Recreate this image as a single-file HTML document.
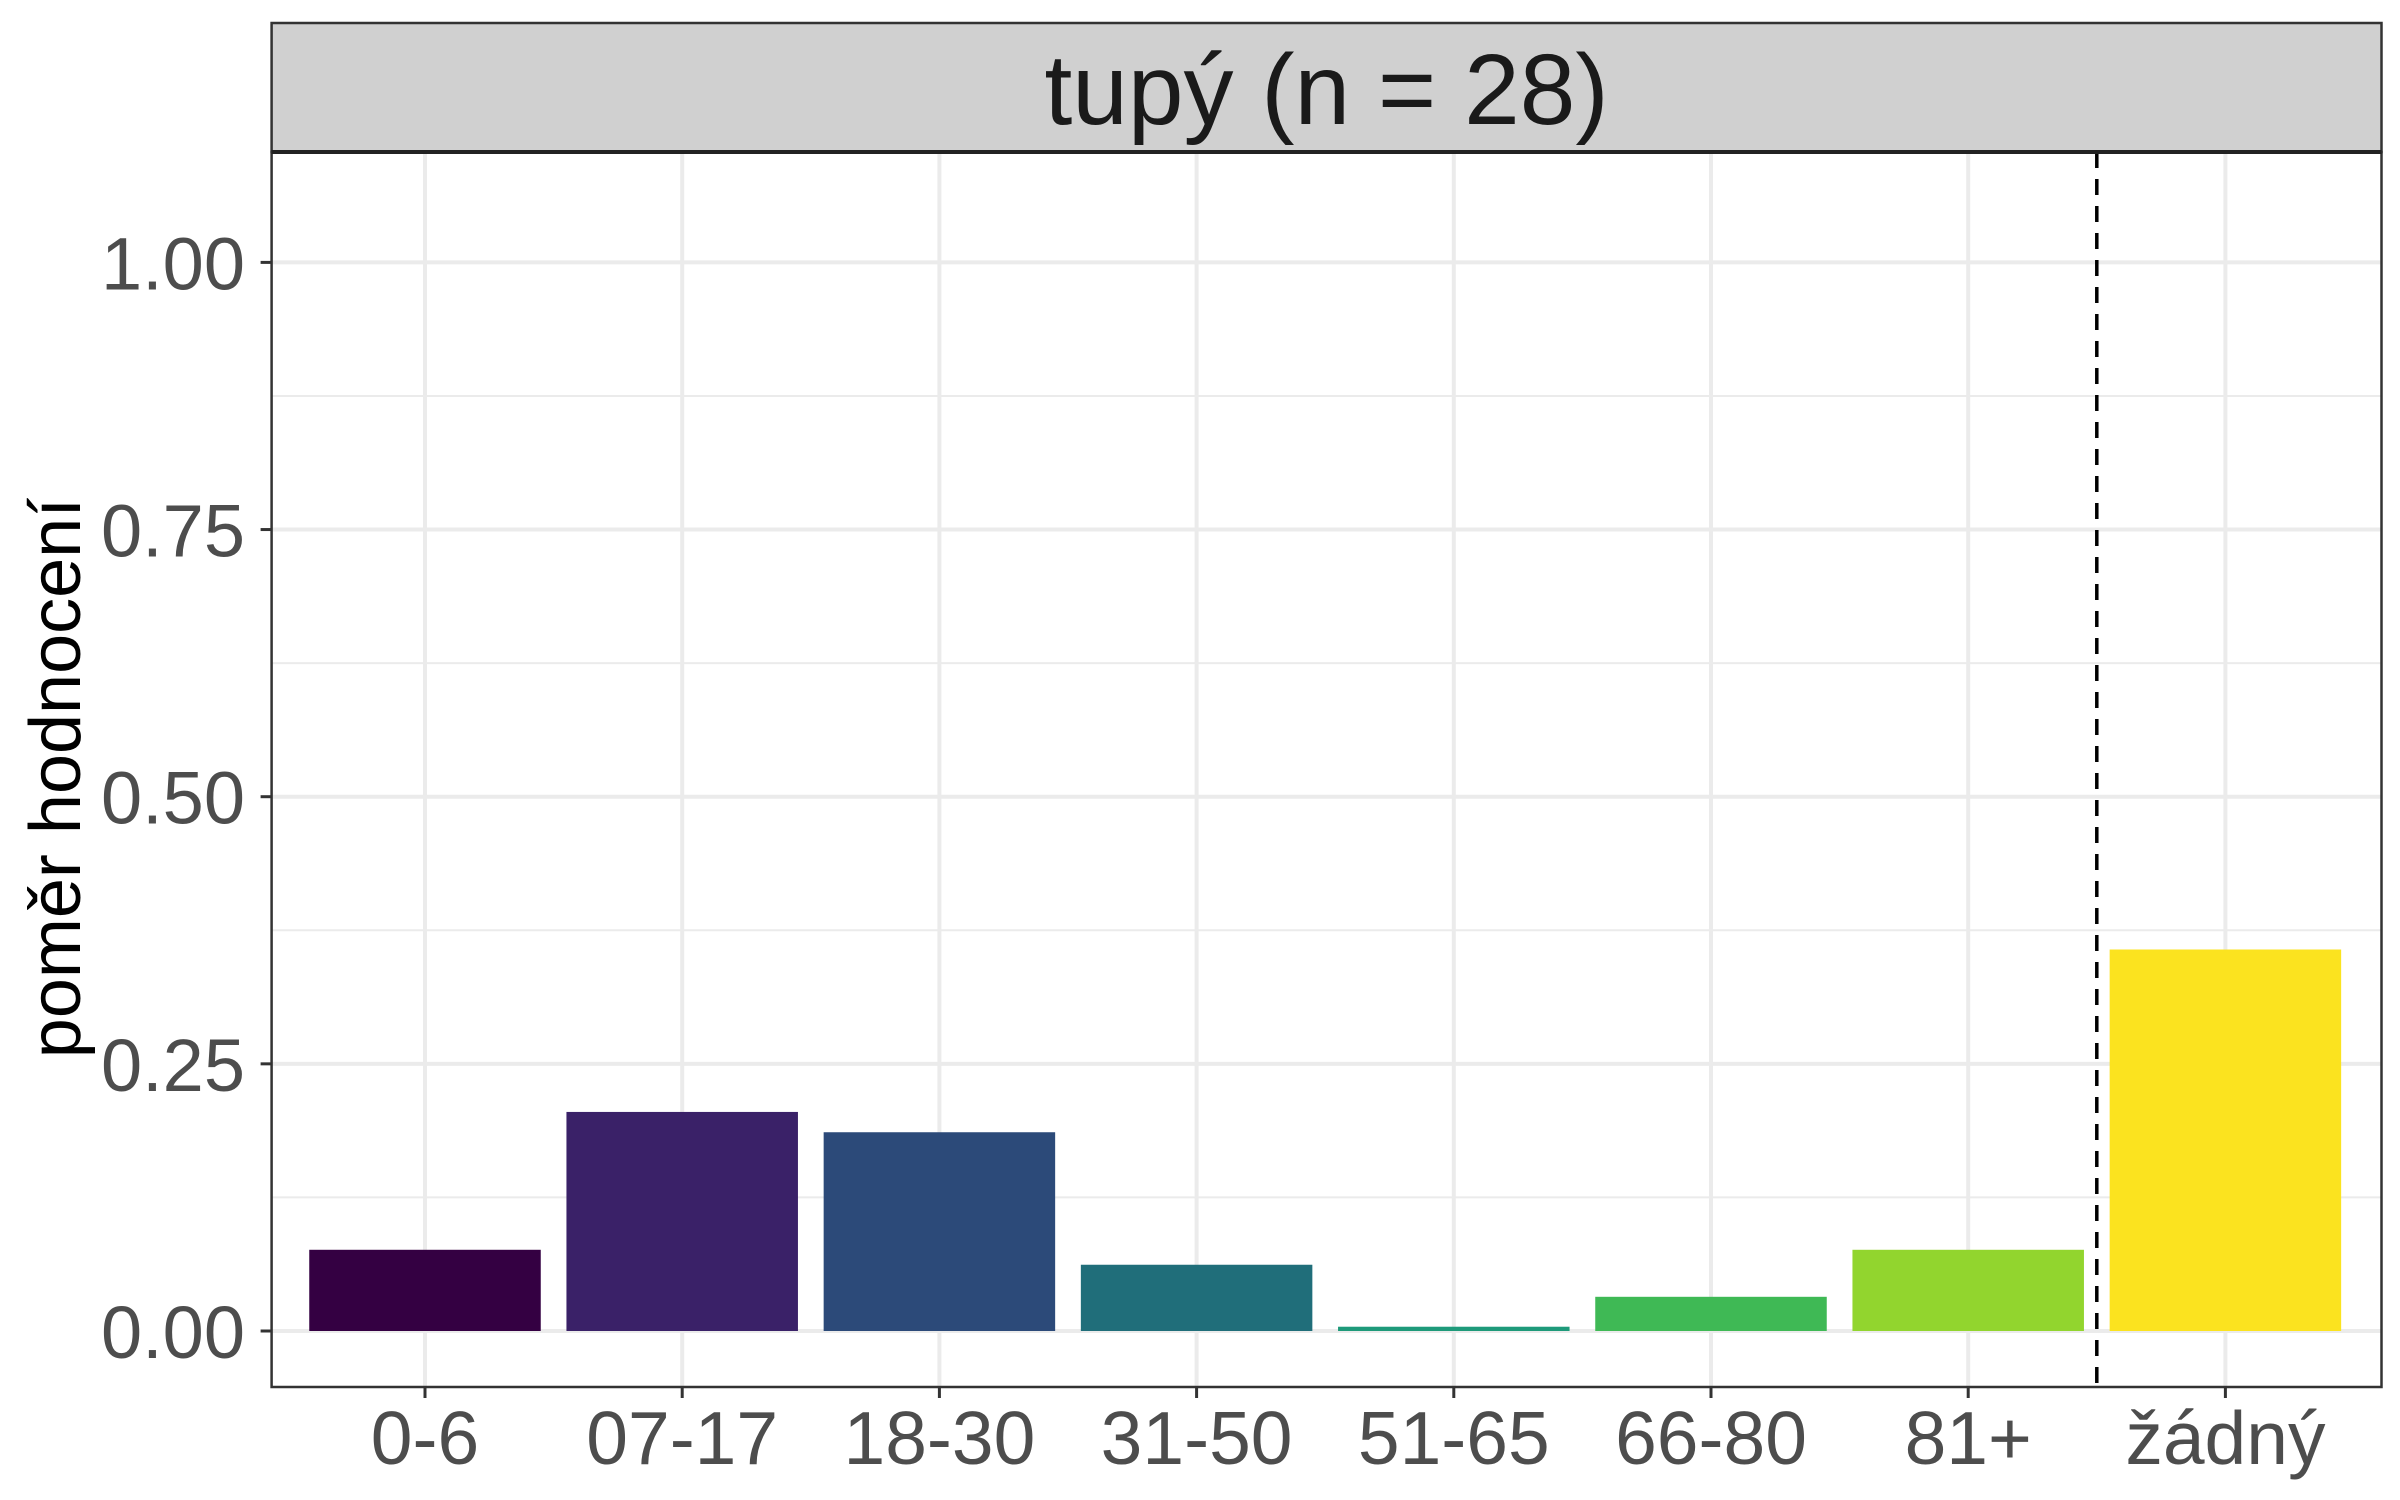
<!DOCTYPE html>
<html><head><meta charset="utf-8"><style>
html,body{margin:0;padding:0;background:#fff;}
svg{display:block;font-family:"Liberation Sans",sans-serif;}
</style></head><body>
<svg id="chart" width="2400" height="1500" viewBox="0 0 2400 1500" xmlns="http://www.w3.org/2000/svg">
<g id="grid"></g>
<g id="bars"></g>
<g id="axes"></g>
</svg>
<script>
const categories = ["0-6","07-17","18-30","31-50","51-65","66-80","81+","žádný"];
const values = [0.076,0.205,0.186,0.062,0.004,0.032,0.076,0.357];
const colors = ["#340042","#3a2168","#2c4a79","#206e7a","#1e9a7a","#3fb955","#92d52e","#fbe31f"];
const yTicks = [0,0.25,0.5,0.75,1.0];
const yTickLabels = ["0.00","0.25","0.50","0.75","1.00"];

const NS="http://www.w3.org/2000/svg";
const L=271.6,R=2381.5,T=152,B=1387,stripTop=23;
const y0=1331,y1=262.4;
const cx0=425,step=257.2,bw=231.5;
function yScale(v){return y0+(y1-y0)*v;}
function xScale(i){return cx0+step*i;}
function mk(tag,attrs,parent){const e=document.createElementNS(NS,tag);for(const k in attrs)e.setAttribute(k,attrs[k]);parent.appendChild(e);return e;}
const grid=document.getElementById('grid'),bars=document.getElementById('bars'),axes=document.getElementById('axes');

const bg=mk('rect',{x:L,y:T,width:R-L,height:B-T,fill:'#fff'},grid);


for(let i=0;i<yTicks.length-1;i++){
  const v=(yTicks[i]+yTicks[i+1])/2;
  const g=mk('line',{x1:L,x2:R,y1:yScale(v),y2:yScale(v),stroke:'#ebebeb','stroke-width':2},grid);
  
  
}
yTicks.forEach(v=>{
  const g=mk('line',{x1:L,x2:R,y1:yScale(v),y2:yScale(v),stroke:'#ebebeb','stroke-width':4},grid);
  
  
});
categories.forEach((c,i)=>{
  const g=mk('line',{x1:xScale(i),x2:xScale(i),y1:T,y2:B,stroke:'#ebebeb','stroke-width':4},grid);
  
  
});
values.forEach((v,i)=>{
  const yt=yScale(v);
  const r=mk('rect',{x:xScale(i)-bw/2,y:yt,width:bw,height:Math.max(0,y0-yt),fill:colors[i]},bars);
  
  
});
const sx=(xScale(6)+xScale(7))/2;
const dl=mk('line',{x1:sx,x2:sx,y1:T,y2:B,stroke:'#000','stroke-width':3.5,'stroke-dasharray':'16 11'},bars);


const pb=mk('rect',{x:L,y:T,width:R-L,height:B-T,fill:'none',stroke:'#333','stroke-width':2.5},axes);


const st=mk('rect',{x:L,y:stripTop,width:R-L,height:T-stripTop,fill:'#d0d0d0',stroke:'#333','stroke-width':2.5},axes);


const sl=mk('line',{x1:L,x2:R,y1:T,y2:T,stroke:'#222','stroke-width':4},axes);


const stt=mk('text',{x:(L+R)/2,y:124,'text-anchor':'middle','font-size':100,fill:'#1a1a1a'},axes);
stt.textContent='tupý (n = 28)';


yTicks.forEach((v,i)=>{
  const t=mk('line',{x1:L-11,x2:L,y1:yScale(v),y2:yScale(v),stroke:'#333','stroke-width':3},axes);
  
  
  const tx=mk('text',{x:245,y:yScale(v)+27,'text-anchor':'end','font-size':74,fill:'#4d4d4d'},axes);
  tx.textContent=yTickLabels[i];
  
  
});
categories.forEach((c,i)=>{
  const t=mk('line',{x1:xScale(i),x2:xScale(i),y1:B,y2:B+11,stroke:'#333','stroke-width':3},axes);
  
  
  const tx=mk('text',{x:xScale(i),y:1464,'text-anchor':'middle','font-size':75,fill:'#4d4d4d'},axes);
  tx.textContent=c;
  
  
});
const yt=mk('text',{x:0,y:0,'text-anchor':'middle','font-size':72,fill:'#000',transform:'translate(80,778) rotate(-90)'},axes);
yt.textContent='poměr hodnocení';


</script>
</body></html>
